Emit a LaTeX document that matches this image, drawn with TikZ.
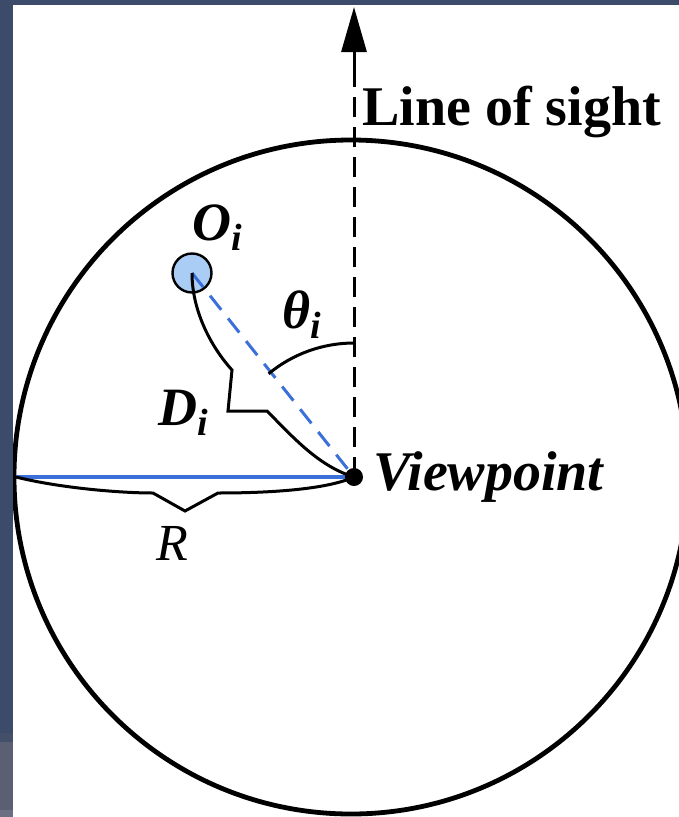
\documentclass[tikz,border=0pt]{standalone}
\usepackage{fontspec}
\setmainfont{Liberation Serif}
\usetikzlibrary{arrows.meta}
\definecolor{bgdark}{HTML}{3C4B69}
\definecolor{bgband}{HTML}{44506A}
\definecolor{bggray}{HTML}{5A6072}
\definecolor{bglight}{HTML}{6A7082}
\definecolor{ballblue}{HTML}{A9CDF5}
\definecolor{lineblue}{HTML}{3B6FD9}
\tikzset{
  thickline/.style={line width=4.8pt},
  braceline/.style={line width=3pt, line join=miter},
  sightline/.style={line width=3pt, dash pattern=on 20pt off 10pt},
  lbl/.style={inner sep=0pt, anchor=base west},
  big/.style={font=\fontsize{56}{60}\selectfont\bfseries},
}
\newcommand{\symb}[2]{{\fontsize{54}{56}\selectfont\bfseries\itshape #1}\raisebox{-10pt}{\fontsize{38}{40}\selectfont\bfseries\itshape #2}}
\begin{document}
\begin{tikzpicture}[x=1pt,y=-1pt]
% background
\fill[white] (0,0) rectangle (679,817);
\useasboundingbox (0,0) rectangle (679,817);
\fill[bgdark] (0,0) rectangle (679,5);
\fill[bgdark] (0,0) rectangle (13,733);
\fill[bgband] (0,733) rectangle (13,742);
\fill[bggray] (0,742) rectangle (13,810);
\fill[bglight] (0,810) rectangle (13,817);
\begin{scope}
\clip (13,5) rectangle (679,817);
% big circle
\draw[thickline] (351,477) circle[radius=337];
% coordinates
\coordinate (vp) at (354,477);
\coordinate (sighttop) at (354,68);
\coordinate (tip) at (354,7);
\coordinate (left) at (16,477);
\coordinate (thstart) at (354,343);
% radius line
\draw[lineblue, line width=3.6pt] (left) -- (vp);
% line of sight
\draw[sightline] (vp) -- (sighttop);
\draw[line width=3pt, -{Triangle[length=45pt,width=25pt]}] (sighttop) -- (tip);
% object
\node[circle, draw, line width=2.4pt, fill=ballblue, minimum size=39pt, inner sep=0pt] (oi) at (192,273) {};
\draw[lineblue, line width=3pt, dash pattern=on 18pt off 11pt] (oi.center) -- (vp);
% D_i brace
\draw[braceline] (oi.center) .. controls (192,312) and (212,348) .. (232,370) -- (228,411) -- (267,411) .. controls (292,436) and (318,466) .. (vp);
% R brace
\draw[braceline] (left) .. controls (60,488) and (120,493) .. (153,493) -- (185,511) -- (218,493) .. controls (280,493) and (330,488) .. (vp);
% theta arc
\draw[braceline] (thstart) arc[start angle=-90, end angle=-129.6, radius=134];
% viewpoint dot
\fill (vp) circle[radius=9];
% labels
\node[lbl, big] (los) at (362,125) {Line of sight};
\node[lbl, big, font=\fontsize{56}{60}\selectfont\bfseries\itshape] (vplbl) at (373,490) {Viewpoint};
\node[lbl] (olbl) at (192,240) {\symb{O}{i}};
\node[lbl] (dlbl) at (158,425) {\symb{D}{i}};
\node[lbl] (tlbl) at (282,328) {\symb{θ}{i}};
\node[lbl, font=\fontsize{52}{54}\selectfont\itshape] (rlbl) at (156,560) {R};
\end{scope}
\end{tikzpicture}
\end{document}
